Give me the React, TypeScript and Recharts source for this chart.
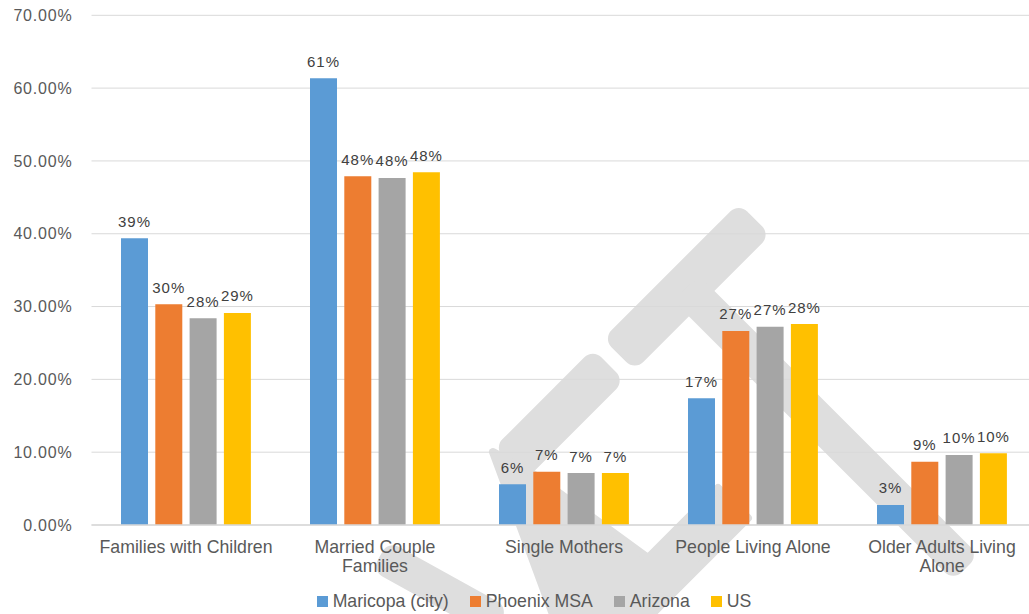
import React from 'react';
import { BarChart, Bar, XAxis, YAxis, CartesianGrid, Legend, LabelList } from 'recharts';

// Household composition shares by geography
const categories = [
  'Families with Children',
  'Married Couple Families',
  'Single Mothers',
  'People Living Alone',
  'Older Adults Living Alone',
];
const maricopaCity = [0.3938, 0.6136, 0.0559, 0.174, 0.0275];
const phoenixMsa = [0.3031, 0.479, 0.0732, 0.2665, 0.087];
const arizona = [0.2839, 0.4766, 0.0714, 0.2724, 0.0962];
const unitedStates = [0.2912, 0.4845, 0.0714, 0.276, 0.0985];
const yTicks = [0, 0.1, 0.2, 0.3, 0.4, 0.5, 0.6, 0.7];

const series = [
  { key: 'maricopa', name: 'Maricopa (city)', values: maricopaCity, color: '#5B9BD5' },
  { key: 'phoenix', name: 'Phoenix MSA', values: phoenixMsa, color: '#ED7D31' },
  { key: 'arizona', name: 'Arizona', values: arizona, color: '#A5A5A5' },
  { key: 'us', name: 'US', values: unitedStates, color: '#FFC000' },
];

const data = categories.map((category, i) => {
  const row: Record<string, string | number> = { category };
  series.forEach((s) => {
    row[s.key] = s.values[i];
  });
  return row;
});

const FONT = '"Liberation Sans", Arial, Helvetica, sans-serif';
const AXIS_TEXT = '#595959';
const LABEL_TEXT = '#404040';
const GRID = '#D9D9D9';
const MARK = '#DEDEDE';
const CATEGORY_FONT_SIZE = 17.7;
const CATEGORY_WRAP_WIDTH = 185;

// Background logo mark, built from rotated rounded bars and one polygon
type Stroke = { cx: number; cy: number; len: number; w: number; angle: number };
const logoBars: Stroke[] = [
  { cx: 686.75, cy: 286.75, len: 192, w: 45, angle: -45 },
  { cx: 826, cy: 428, len: 396, w: 36, angle: 45 },
  { cx: 559.25, cy: 414.25, len: 140, w: 45, angle: -45 },
  { cx: 440, cy: 589, len: 137, w: 34, angle: 29 },
];
const logoPolygon = '493,452 533,474 648,558 718,488 748,518 646,620 555,620';

const LogoMark = () => (
  <svg width={1029} height={614} style={{ position: 'absolute', left: 0, top: 0 }}>
    {logoBars.map((b, i) => (
      <rect
        key={i}
        x={b.cx - b.len / 2}
        y={b.cy - b.w / 2}
        width={b.len}
        height={b.w}
        rx={12}
        ry={12}
        fill={MARK}
        transform={`rotate(${b.angle} ${b.cx} ${b.cy})`}
      />
    ))}
    <polygon points={logoPolygon} fill={MARK} stroke={MARK} strokeWidth={8} strokeLinejoin="round" />
  </svg>
);

// Text measuring for wrapping the category names
let measureCtx: CanvasRenderingContext2D | null = null;
const textWidth = (s: string, size: number) => {
  if (!measureCtx && typeof document !== 'undefined') {
    measureCtx = document.createElement('canvas').getContext('2d');
  }
  if (measureCtx) {
    measureCtx.font = `${size}px ${FONT}`;
    return measureCtx.measureText(s).width;
  }
  return s.length * size * 0.5;
};

const wrapWords = (s: string, maxWidth: number, size: number) => {
  const words = s.split(' ');
  const lines: string[] = [];
  let current = '';
  words.forEach((w) => {
    const next = current ? `${current} ${w}` : w;
    if (current && textWidth(next, size) > maxWidth) {
      lines.push(current);
      current = w;
    } else {
      current = next;
    }
  });
  if (current) lines.push(current);
  return lines;
};

const pct2 = (v: number) => `${(v * 100).toFixed(2)}%`;

const PercentTick = (props: any) => {
  const { x, y, payload } = props;
  return (
    <text
      x={x}
      y={y}
      dy="0.355em"
      textAnchor="end"
      fill={AXIS_TEXT}
      fontSize={16}
      fontFamily={FONT}
      style={{ letterSpacing: '0.8px' }}
    >
      {pct2(payload.value)}
    </text>
  );
};

const CategoryTick = (props: any) => {
  const { x, y, payload } = props;
  const lines = wrapWords(String(payload.value), CATEGORY_WRAP_WIDTH, CATEGORY_FONT_SIZE);
  return (
    <text
      x={x}
      y={y}
      textAnchor="middle"
      fill={AXIS_TEXT}
      fontSize={CATEGORY_FONT_SIZE}
      fontFamily={FONT}
    >
      {lines.map((line, i) => (
        <tspan key={i} x={x} dy={i === 0 ? '0.71em' : 19}>
          {line}
        </tspan>
      ))}
    </text>
  );
};

const ValueLabel = (props: any) => {
  const vb = props.viewBox || {};
  const x = vb.x ?? props.x;
  const y = vb.y ?? props.y;
  const width = vb.width ?? props.width;
  const value = Number(props.value);
  return (
    <text
      x={x + width / 2}
      y={y - 11.5}
      textAnchor="middle"
      fill={LABEL_TEXT}
      fontSize={15}
      fontFamily={FONT}
      style={{ letterSpacing: '1px' }}
    >
      {`${Math.round(value * 100)}%`}
    </text>
  );
};

const LegendContent = (props: any) => {
  const payload = [...(props.payload || [])];
  const order = series.map((s) => s.name);
  payload.sort((a: any, b: any) => order.indexOf(a.value) - order.indexOf(b.value));
  return (
    <div
      style={{
        display: 'flex',
        justifyContent: 'center',
        alignItems: 'center',
        height: 20,
        fontFamily: FONT,
        fontSize: CATEGORY_FONT_SIZE,
        color: AXIS_TEXT,
        whiteSpace: 'nowrap',
      }}
    >
      {payload.map((p: any, i: number) => (
        <span
          key={p.value}
          style={{
            display: 'inline-flex',
            alignItems: 'center',
            marginRight: i < payload.length - 1 ? 21 : 0,
          }}
        >
          <span
            style={{
              display: 'inline-block',
              width: 11,
              height: 11,
              background: p.color,
              marginRight: 5,
            }}
          />
          {p.value}
        </span>
      ))}
    </div>
  );
};

export default function App() {
  return (
    <div
      style={{
        position: 'fixed',
        left: 0,
        top: 0,
        width: 1029,
        height: 614,
        overflow: 'hidden',
        background: '#FFFFFF',
      }}
    >
      <LogoMark />
      <BarChart
        width={1037}
        height={614}
        data={data}
        margin={{ top: 15.3, right: 0.5, bottom: 9, left: 0 }}
        barCategoryGap={29.5}
        barGap={7.3}
        style={{ position: 'relative' }}
      >
        <CartesianGrid vertical={false} stroke={GRID} strokeWidth={1} />
        <XAxis
          dataKey="category"
          interval={0}
          tickLine={false}
          axisLine={{ stroke: GRID, strokeWidth: 1.5 }}
          tickSize={0}
          tickMargin={15}
          height={60}
          tick={<CategoryTick />}
        />
        <YAxis
          domain={[0, 0.7]}
          ticks={yTicks}
          interval={0}
          width={91.5}
          tickLine={false}
          axisLine={false}
          tickSize={0}
          tickMargin={19}
          tick={<PercentTick />}
        />
        <Legend
          verticalAlign="bottom"
          content={<LegendContent />}
          wrapperStyle={{ left: 0, width: 1068, bottom: 3 }}
        />
        {series.map((s) => (
          <Bar key={s.key} dataKey={s.key} name={s.name} fill={s.color} isAnimationActive={false}>
            <LabelList dataKey={s.key} content={<ValueLabel />} />
          </Bar>
        ))}
      </BarChart>
    </div>
  );
}
